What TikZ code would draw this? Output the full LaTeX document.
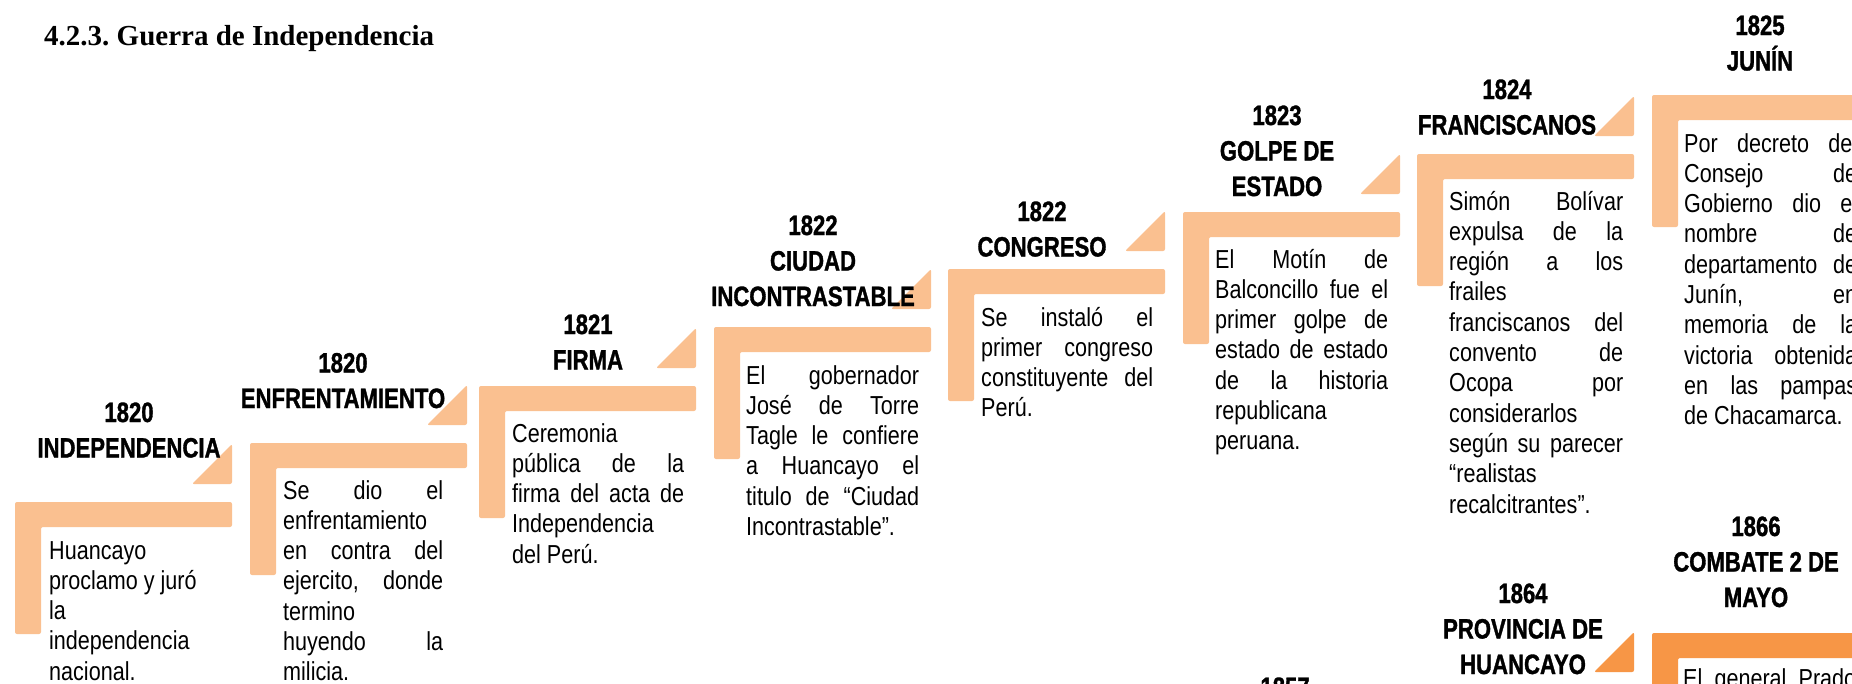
\documentclass[tikz,border=0pt]{standalone}
\usepackage{fontspec}
\newfontfamily\bodyff[FakeStretch=0.83]{Liberation Sans}
\newfontfamily\ttlff[FakeStretch=0.79,FakeBold=1.2]{Liberation Sans}
\newfontfamily\headff{Liberation Serif}
\newcommand\bodyfont{\bodyff\fontsize{26}{30.3}\selectfont}
\newcommand\ttlfont{\ttlff\bfseries\fontsize{28}{35.5}\selectfont}
\newcommand\headfont{\headff\bfseries\fontsize{29}{34}\selectfont\frenchspacing}
\definecolor{peach}{HTML}{FAC090}
\definecolor{darkor}{HTML}{F79646}
\newlength\bw
\newcommand\jline[1]{\hbox to\bw{\spaceskip=\fontdimen2\font plus 1fil\relax #1}}
\newcommand\nline[1]{\hbox{#1}}
\newcommand\btext[2]{\vtop{\bw=#1pt\relax #2}}
\newcommand\ttext[1]{\vtop{\halign{\hfil##\hfil\cr#1\crcr}}}
\newcommand\Lsh[3][peach]{\fill[#1,rounded corners=2pt] (#2,#3) -- ++(217,0) -- ++(0,25) -- ++(-191,0) -- ++(0,107) -- ++(-26,0) -- cycle;}
\newcommand\Tri[3][peach]{\fill[#1,rounded corners=2pt] ({#2+177},{#3-18}) -- ({#2+217},{#3-58}) -- ({#2+217},{#3-18}) -- cycle;}
\tikzset{
  bodytxt/.style={font=\bodyfont, inner sep=0pt, anchor=base west, text=black},
  ttltxt/.style={font=\ttlfont, inner sep=0pt, anchor=base, text=black},
}
\begin{document}
\begin{tikzpicture}[x=1pt,y=-1pt]
\useasboundingbox (0,0) rectangle (1852,683);
\fill[white] (0,0) rectangle (1852,683);
\clip (0,0) rectangle (1852,683);
% shapes
\Lsh{15}{502} \Tri{15}{502}
\Lsh{250}{443} \Tri{250}{443}
\Lsh{479}{386} \Tri{479}{386}
\Lsh{714}{327} \Tri{714}{327}
\Lsh{948}{269} \Tri{948}{269}
\Lsh{1183}{212} \Tri{1183}{212}
\Lsh{1417}{154} \Tri{1417}{154}
\Lsh{1652}{95}
\Tri[darkor]{1417}{690}
\Lsh[darkor]{1652}{633}
% heading
\node[font=\headfont, inner sep=0pt, anchor=base west] (head) at (44,45) {4.2.3. Guerra de Independencia};
% titles
\node[ttltxt] (t1) at (129,422) {\ttext{1820\cr INDEPENDENCIA}};
\node[ttltxt] (t2) at (343,372.5) {\ttext{1820\cr ENFRENTAMIENTO}};
\node[ttltxt] (t3) at (588,334) {\ttext{1821\cr FIRMA}};
\node[ttltxt] (t4) at (813,235) {\ttext{1822\cr CIUDAD\cr INCONTRASTABLE}};
\node[ttltxt] (t5) at (1042,221) {\ttext{1822\cr CONGRESO}};
\node[ttltxt] (t6) at (1277,125) {\ttext{1823\cr GOLPE DE\cr ESTADO}};
\node[ttltxt] (t7) at (1507,99) {\ttext{1824\cr FRANCISCANOS}};
\node[ttltxt] (t8) at (1760,35) {\ttext{1825\cr JUNÍN}};
\node[ttltxt] (t9) at (1523,603) {\ttext{1864\cr PROVINCIA DE\cr HUANCAYO}};
\node[ttltxt] (t10) at (1756,536) {\ttext{1866\cr COMBATE 2 DE\cr MAYO}};
\node[ttltxt] (t11) at (1285,697) {\ttext{1857}};
% bodies
\node[bodytxt] (b1) at (49,559) {\btext{160}{\nline{Huancayo}\nline{proclamo y juró}\nline{la}\nline{independencia}\nline{nacional.}}};
\node[bodytxt] (b2) at (283,499) {\btext{160}{\jline{Se dio el}\nline{enfrentamiento}\jline{en contra del}\jline{ejercito, donde}\nline{termino}\jline{huyendo la}\nline{milicia.}}};
\node[bodytxt] (b3) at (512,442) {\btext{172}{\nline{Ceremonia}\jline{pública de la}\jline{firma del acta de}\nline{Independencia}\nline{del Perú.}}};
\node[bodytxt] (b4) at (746,384) {\btext{173}{\jline{El gobernador}\jline{José de Torre}\jline{Tagle le confiere}\jline{a Huancayo el}\jline{titulo de “Ciudad}\nline{Incontrastable”.}}};
\node[bodytxt] (b5) at (981,326) {\btext{172}{\jline{Se instaló el}\jline{primer congreso}\jline{constituyente del}\nline{Perú.}}};
\node[bodytxt] (b6) at (1215,268) {\btext{173}{\jline{El Motín de}\jline{Balconcillo fue el}\jline{primer golpe de}\jline{estado de estado}\jline{de la historia}\nline{republicana}\nline{peruana.}}};
\node[bodytxt] (b7) at (1449,210) {\btext{174}{\jline{Simón Bolívar}\jline{expulsa de la}\jline{región a los}\nline{frailes}\jline{franciscanos del}\jline{convento de}\jline{Ocopa por}\nline{considerarlos}\jline{según su parecer}\nline{“realistas}\nline{recalcitrantes”.}}};
\node[bodytxt] (b8) at (1684,152) {\btext{173}{\jline{Por decreto del}\jline{Consejo de}\jline{Gobierno dio el}\jline{nombre de}\jline{departamento de}\jline{Junín, en}\jline{memoria de la}\jline{victoria obtenida}\jline{en las pampas}\nline{de Chacamarca.}}};
\node[bodytxt] (b10) at (1683,687) {\btext{173}{\jline{El general Prado}}};
\end{tikzpicture}
\end{document}
